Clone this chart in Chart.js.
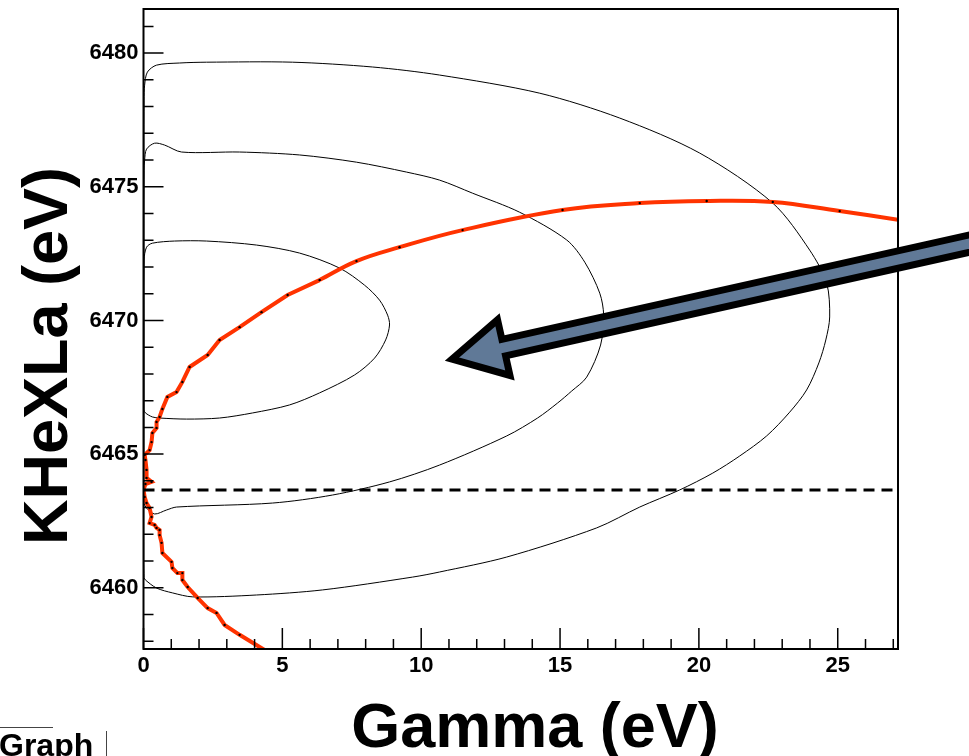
<!DOCTYPE html>
<html>
<head>
<meta charset="utf-8">
<title>KHeXLa vs Gamma</title>
<script src="https://cdn.jsdelivr.net/npm/chart.js@4.4.1/dist/chart.umd.min.js"></script>
<style>
  html, body { margin: 0; padding: 0; background: #fff; }
  canvas { display: block; }
</style>
</head>
<body>
<canvas id="contours" width="969" height="756"></canvas>
<script>
// Axis ranges (eV)
const gammaRange = [0, 27.17];
const energyRange = [6457.71, 6481.65];
const gammaMajorTicks = [0, 5, 10, 15, 20, 25];
const energyMajorTicks = [6460, 6465, 6470, 6475, 6480];

// Contour levels in the (Gamma, KHeXLa) plane
const outerGamma = [0.02, 0.01, 0.01, 0.01, 0.02, 0.04, 0.14, 0.47, 1.30, 2.27, 5.37, 8.25, 10.66, 14.27, 17.15, 20.03, 22.66, 23.99, 24.60, 24.71, 24.57, 24.32, 23.88, 23.27, 22.44, 21.47, 20.50, 19.31, 17.87, 16.32, 13.08, 10.66, 9.69, 6.45, 4.07, 1.77, 1.04, 0.47, 0.07, 0.02];
const outerEnergy = [6460.37, 6461.04, 6467.02, 6474.50, 6478.24, 6478.80, 6479.29, 6479.55, 6479.63, 6479.66, 6479.66, 6479.48, 6479.18, 6478.50, 6477.57, 6476.26, 6474.39, 6472.63, 6471.40, 6470.13, 6469.27, 6468.41, 6467.40, 6466.57, 6465.68, 6464.93, 6464.29, 6463.66, 6463.02, 6462.24, 6461.15, 6460.59, 6460.40, 6459.92, 6459.73, 6459.66, 6459.81, 6459.99, 6460.29, 6460.37];

const middleGamma = [0.01, 0.01, 0.01, 0.02, 0.04, 0.11, 0.40, 0.76, 1.37, 3.46, 5.62, 7.67, 9.47, 10.66, 11.85, 13.54, 15.24, 15.89, 16.43, 16.57, 16.46, 15.96, 15.42, 14.91, 14.19, 13.08, 10.66, 8.86, 6.81, 4.65, 1.19, 0.83, 0.40, 0.11, 0.01];
const middleEnergy = [6463.17, 6467.02, 6472.63, 6475.62, 6476.00, 6476.41, 6476.63, 6476.56, 6476.30, 6476.30, 6476.19, 6475.92, 6475.55, 6475.25, 6474.76, 6474.05, 6473.01, 6472.18, 6471.02, 6470.20, 6469.08, 6467.88, 6467.36, 6466.91, 6466.35, 6465.68, 6464.59, 6463.96, 6463.47, 6463.17, 6463.02, 6462.91, 6462.76, 6462.98, 6463.17];

const innerGamma = [0.01, 0.01, 0.02, 0.11, 0.32, 1.12, 2.27, 4.07, 5.62, 7.06, 7.96, 8.50, 8.79, 8.86, 8.72, 8.32, 7.60, 6.34, 5.26, 3.93, 2.74, 1.55, 0.58, 0.32, 0.07, 0.01];
const innerEnergy = [6466.65, 6469.64, 6472.26, 6472.74, 6472.89, 6472.97, 6472.97, 6472.82, 6472.52, 6471.96, 6471.32, 6470.76, 6470.20, 6469.83, 6469.27, 6468.59, 6467.96, 6467.29, 6466.84, 6466.54, 6466.35, 6466.31, 6466.35, 6466.39, 6466.54, 6466.65];

// Best-fit path: jagged scan near Gamma = 0, then the smooth branch
const scanGamma = [4.36, 3.46, 2.92, 2.63, 2.31, 1.95, 1.59, 1.40, 1.40, 1.22, 1.04, 1.01, 0.68, 0.65, 0.58, 0.58, 0.47, 0.40, 0.22, 0.29, 0.22, 0.11, 0.04, 0.00, 0.07, 0.29, 0.11, 0.11, 0.07, 0.04, 0.22, 0.29, 0.32, 0.47, 0.47, 0.58, 0.68, 0.86, 1.19, 1.40, 1.66, 2.31, 2.74, 3.46, 4.25, 5.19, 6.34];
const scanEnergy = [6457.67, 6458.24, 6458.61, 6459.06, 6459.24, 6459.62, 6460.03, 6460.29, 6460.55, 6460.55, 6460.74, 6460.97, 6461.30, 6461.68, 6461.97, 6462.16, 6462.24, 6462.35, 6462.42, 6462.65, 6462.98, 6463.17, 6463.40, 6463.66, 6463.88, 6463.96, 6464.11, 6464.41, 6464.78, 6464.97, 6465.15, 6465.45, 6465.79, 6465.98, 6466.20, 6466.39, 6466.69, 6467.14, 6467.32, 6467.70, 6468.26, 6468.71, 6469.27, 6469.75, 6470.31, 6470.95, 6471.51];
const branchGamma = [6.34, 7.67, 9.22, 11.49, 15.09, 17.87, 20.28, 22.66, 25.07, 27.17];
const branchEnergy = [6471.51, 6472.22, 6472.74, 6473.38, 6474.13, 6474.39, 6474.47, 6474.43, 6474.09, 6473.77];

// Reference energy line
const refEnergy = 6463.66;

// Arrow annotation, tail -> tip in data units
const arrowTail = [30.84, 6473.13];
const arrowTip = [11.11, 6468.55];

const pts = (xs, ys) => xs.map((x, i) => ({ x, y: ys[i] }));
const FONT = '"Liberation Sans", Arial, Helvetica, sans-serif';

const contour = (data) => ({
  data,
  showLine: true,
  borderColor: '#000',
  borderWidth: 1,
  pointRadius: 0,
  tension: 0.3,
  order: 3,
});

function drawArrow(ctx, x0, y0, x1, y1) {
  const ang = Math.atan2(y1 - y0, x1 - x0);
  const len = Math.hypot(x1 - x0, y1 - y0);
  const headLen = 53, headHalf = 28.5, shaftHalf = 8.5;
  ctx.save();
  ctx.translate(x1, y1);
  ctx.rotate(ang);
  ctx.beginPath();
  ctx.moveTo(0, 0);
  ctx.lineTo(-headLen, -headHalf);
  ctx.lineTo(-headLen, -shaftHalf);
  ctx.lineTo(-len, -shaftHalf);
  ctx.lineTo(-len, shaftHalf);
  ctx.lineTo(-headLen, shaftHalf);
  ctx.lineTo(-headLen, headHalf);
  ctx.closePath();
  ctx.fillStyle = '#607997';
  ctx.fill();
  ctx.lineWidth = 7;
  ctx.lineJoin = 'miter';
  ctx.miterLimit = 10;
  ctx.strokeStyle = '#000';
  ctx.stroke();
  ctx.restore();
}

// ROOT-like frame: inward ticks, arrow, titles and the clipped title box
const rootFrame = {
  id: 'rootFrame',
  afterDatasetsDraw(chart) {
    const { ctx, chartArea: a, scales: { x, y } } = chart;
    ctx.save();
    ctx.strokeStyle = '#000';
    ctx.lineWidth = 1.5;
    ctx.beginPath();
    for (let g = 0; g <= Math.floor(gammaRange[1]); g++) {
      const px = x.getPixelForValue(g);
      const len = gammaMajorTicks.includes(g) ? 21 : 10;
      ctx.moveTo(px, a.bottom);
      ctx.lineTo(px, a.bottom - len);
    }
    for (let e = Math.ceil(energyRange[0]); e <= energyRange[1]; e++) {
      const py = y.getPixelForValue(e);
      const len = energyMajorTicks.includes(e) ? 20 : 10;
      ctx.moveTo(a.left, py);
      ctx.lineTo(a.left + len, py);
    }
    ctx.stroke();

    ctx.lineWidth = 2;
    ctx.strokeRect(a.left, a.top, a.right - a.left, a.bottom - a.top);

    drawArrow(ctx,
      x.getPixelForValue(arrowTail[0]), y.getPixelForValue(arrowTail[1]),
      x.getPixelForValue(arrowTip[0]), y.getPixelForValue(arrowTip[1]));

    ctx.fillStyle = '#000';
    ctx.font = 'bold 63px ' + FONT;
    ctx.textAlign = 'center';
    ctx.textBaseline = 'alphabetic';
    ctx.fillText('Gamma (eV)', 535, 747);
    ctx.save();
    ctx.translate(67, 356);
    ctx.rotate(-Math.PI / 2);
    ctx.fillText('KHeXLa (eV)', 0, 0);
    ctx.restore();

    ctx.font = 'bold 32px ' + FONT;
    ctx.textAlign = 'left';
    ctx.fillText('Graph', -1, 756);
    ctx.lineWidth = 1;
    ctx.strokeStyle = '#444';
    ctx.beginPath();
    ctx.moveTo(0, 727.5);
    ctx.lineTo(53, 727.5);
    ctx.moveTo(106.5, 731);
    ctx.lineTo(106.5, 756);
    ctx.stroke();
    ctx.restore();
  },
};

const tickFont = { family: FONT, size: 22, weight: 'bold' };

new Chart(document.getElementById('contours'), {
  type: 'scatter',
  data: {
    datasets: [
      {
        data: [{ x: gammaRange[0], y: refEnergy }, { x: gammaRange[1], y: refEnergy }],
        showLine: true,
        borderColor: '#000',
        borderWidth: 3,
        borderDash: [11, 7],
        pointRadius: 0,
        order: 0,
      },
      {
        data: pts(scanGamma, scanEnergy),
        showLine: true,
        borderColor: '#ff3300',
        borderWidth: 4,
        tension: 0,
        pointRadius: 1.2,
        pointBorderWidth: 0,
        pointBackgroundColor: '#000',
        order: 1,
      },
      {
        data: pts(branchGamma, branchEnergy),
        showLine: true,
        borderColor: '#ff3300',
        borderWidth: 4,
        tension: 0.4,
        pointRadius: 1.2,
        pointBorderWidth: 0,
        pointBackgroundColor: '#000',
        order: 1,
      },
      contour(pts(outerGamma, outerEnergy)),
      contour(pts(middleGamma, middleEnergy)),
      contour(pts(innerGamma, innerEnergy)),
    ],
  },
  options: {
    responsive: false,
    animation: false,
    devicePixelRatio: 1,
    layout: { padding: { top: 9, right: 71, left: 0, bottom: 0 } },
    plugins: { legend: { display: false }, tooltip: { enabled: false } },
    scales: {
      x: {
        type: 'linear',
        min: gammaRange[0],
        max: gammaRange[1],
        grid: { display: false, drawTicks: false },
        border: { display: false },
        afterBuildTicks: (s) => { s.ticks = gammaMajorTicks.map((v) => ({ value: v })); },
        afterFit: (s) => {
          s.height = 107;
          s.paddingLeft = 0;
          s.paddingRight = 0;
        },
        ticks: {
          color: '#000',
          padding: 4,
          maxRotation: 0,
          font: tickFont,
          callback: (v) => String(v),
        },
      },
      y: {
        type: 'linear',
        min: energyRange[0],
        max: energyRange[1],
        grid: { display: false, drawTicks: false },
        border: { display: false },
        afterBuildTicks: (s) => { s.ticks = energyMajorTicks.map((v) => ({ value: v })); },
        afterFit: (s) => {
          s.width = 143.5;
          s.paddingTop = 0;
          s.paddingBottom = 0;
        },
        ticks: {
          color: '#000',
          padding: 5,
          font: tickFont,
          callback: (v) => String(v),
        },
      },
    },
  },
  plugins: [rootFrame],
});
</script>
</body>
</html>
